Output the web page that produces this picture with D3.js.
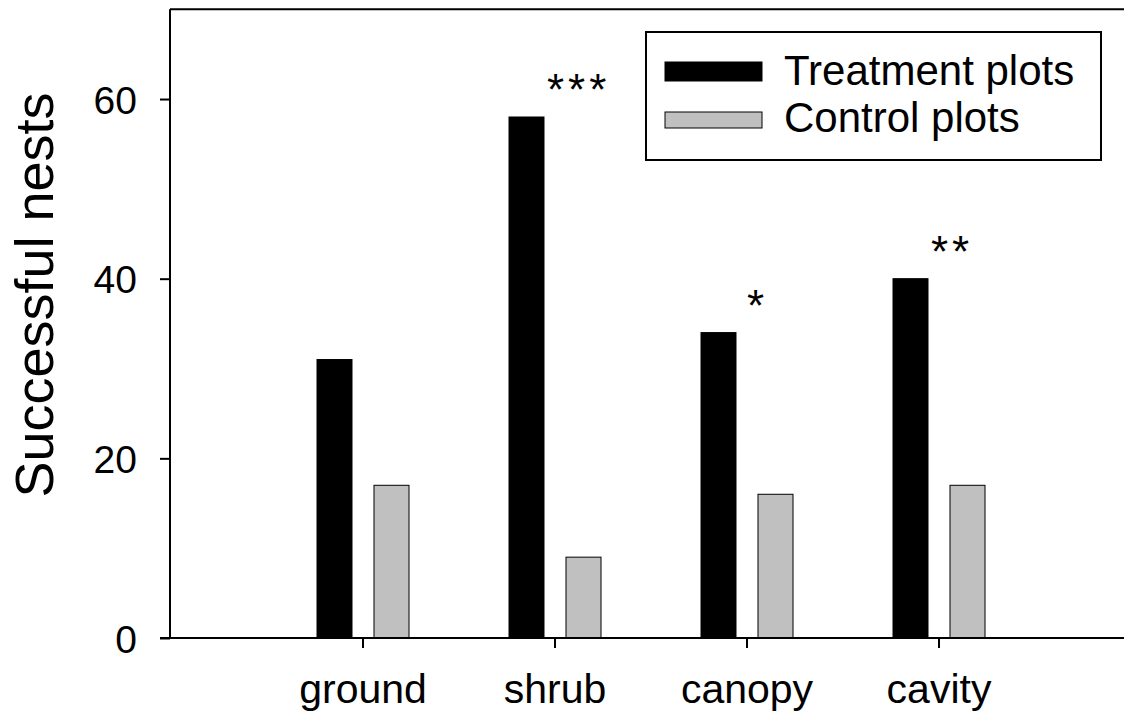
<!DOCTYPE html>
<html>
<head>
<meta charset="utf-8">
<script src="https://cdn.jsdelivr.net/npm/d3@7"></script>
<style>
  html, body { margin: 0; padding: 0; background: #fff; }
  svg { display: block; font-family: "Liberation Sans", Arial, sans-serif; }
</style>
</head>
<body>
<svg id="chart" width="1124" height="717"></svg>
<script>
// Successful nests by nest type, treatment vs control plots
const categories = ["ground", "shrub", "canopy", "cavity"];
const seriesNames = ["Treatment plots", "Control plots"];
const treatment = [31, 58, 34, 40];
const control = [17, 9, 16, 17];
const yTicks = [0, 20, 40, 60];
const significance = ["", "***", "*", "**"];

const svg = d3.select("#chart");
const W = 1124, H = 717;
const left = 170, bottom = 638;

const y = d3.scaleLinear().domain([0, 70]).range([bottom, 9.2]);
const x0 = d3.scaleBand().domain(categories).range([267, 1035]);
const x1 = d3.scaleBand().domain(seriesNames).range([50, 142]).paddingInner(0.386).paddingOuter(0);
const fill = d3.scaleOrdinal().domain(seriesNames).range(["#000000", "#c0c0c0"]);

const rows = categories.map((c, i) => ({ cat: c, values: [treatment[i], control[i]], sig: significance[i] }));

// bars
const groups = svg.append("g").selectAll("g").data(rows).join("g")
  .attr("transform", d => `translate(${x0(d.cat)},0)`);
groups.selectAll("rect")
  .data(d => d.values.map((v, j) => ({ s: seriesNames[j], v })))
  .join("rect")
  .attr("x", d => x1(d.s))
  .attr("y", d => y(d.v))
  .attr("width", x1.bandwidth())
  .attr("height", d => y(0) - y(d.v))
  .attr("fill", d => fill(d.s))
  .attr("stroke", "#000")
  .attr("stroke-width", 1);

// top frame line
svg.append("line")
  .attr("x1", left).attr("x2", W)
  .attr("y1", y(70)).attr("y2", y(70))
  .attr("stroke", "#000").attr("stroke-width", 2);

// y axis
const yAxis = svg.append("g")
  .attr("transform", `translate(${left},0)`)
  .call(d3.axisLeft(y).tickValues(yTicks).tickSize(10).tickPadding(23).tickFormat(d3.format("d")));
yAxis.select(".domain").attr("stroke-width", 2).attr("d", `M0,${y(70)}V${bottom}`);
yAxis.selectAll(".tick line").attr("stroke-width", 2);
yAxis.selectAll("text").attr("font-size", 39).attr("fill", "#000")
  .attr("font-family", "Liberation Sans, Arial, sans-serif").attr("dy", "0.36em");

// x axis
const xAxis = svg.append("g")
  .attr("transform", `translate(0,${bottom})`)
  .call(d3.axisBottom(x0).tickSize(10).tickPadding(26));
xAxis.select(".domain").attr("stroke-width", 2).attr("d", `M${left - 10},0H${W}`);
xAxis.selectAll(".tick line").attr("stroke-width", 2);
xAxis.selectAll("text").attr("font-size", 41).attr("fill", "#000")
  .attr("font-family", "Liberation Sans, Arial, sans-serif");

// y axis title
svg.append("text")
  .attr("transform", `translate(53,295) rotate(-90)`)
  .attr("text-anchor", "middle")
  .attr("font-size", 54)
  .attr("fill", "#000")
  .text("Successful nests");

// significance markers above the treatment bars
const sigDx = { "***": -8, "*": 0, "**": -8 };
svg.append("g").selectAll("text")
  .data(rows.filter(d => d.sig))
  .join("text")
  .attr("x", d => x0(d.cat) + x0.bandwidth() / 2 + sigDx[d.sig])
  .attr("y", d => y(d.values[0]) - 12)
  .attr("font-size", 44)
  .attr("letter-spacing", 4)
  .attr("fill", "#000")
  .text(d => d.sig);

// legend
const legend = svg.append("g");
legend.append("rect")
  .attr("x", 646).attr("y", 32).attr("width", 455).attr("height", 128)
  .attr("fill", "#fff").attr("stroke", "#000").attr("stroke-width", 2);
const items = legend.selectAll("g.item").data(seriesNames).join("g")
  .attr("class", "item")
  .attr("transform", (d, i) => `translate(665,${62 + i * 50})`);
items.append("rect")
  .attr("width", 97).attr("height", (d, i) => i === 0 ? 19 : 16)
  .attr("fill", d => fill(d))
  .attr("stroke", "#000").attr("stroke-width", 1);
items.append("text")
  .attr("x", 119).attr("y", (d, i) => i === 0 ? 23 : 20)
  .attr("font-size", 42)
  .attr("fill", "#000")
  .text(d => d);
</script>
</body>
</html>
